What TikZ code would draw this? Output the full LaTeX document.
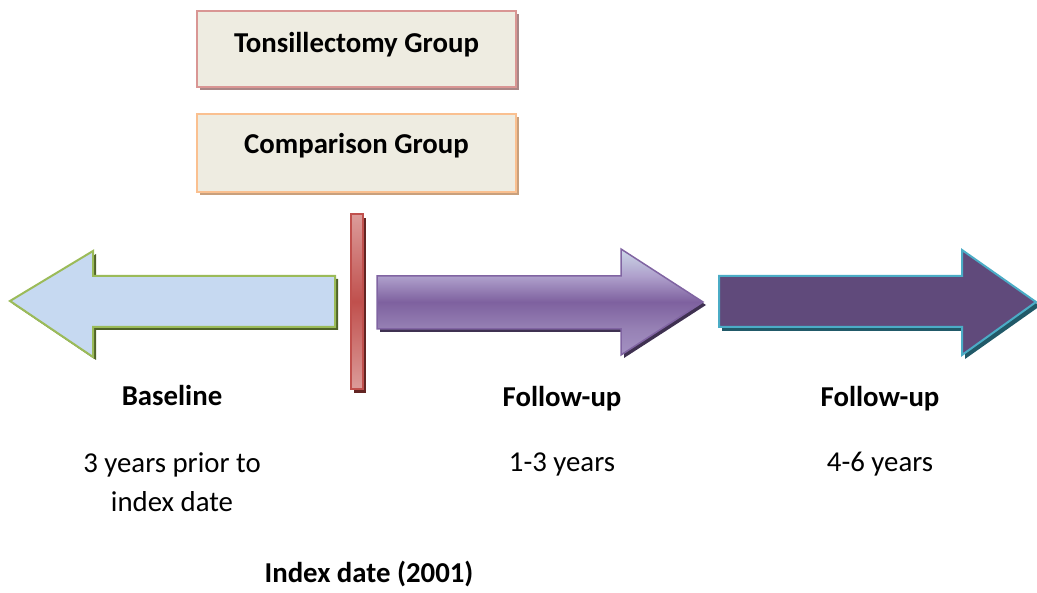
\documentclass[tikz,border=0pt]{standalone}
\usepackage{fontspec}
\setmainfont{Carlito}
\usetikzlibrary{calc}
\definecolor{boxfill}{HTML}{EEECE1}
\definecolor{tgborder}{HTML}{D99694}
\definecolor{tgshadow}{HTML}{A98686}
\definecolor{cgborder}{HTML}{FAC090}
\definecolor{cgshadow}{HTML}{C9A07C}
\definecolor{barred}{HTML}{C0504D}
\definecolor{barlight}{HTML}{DC9C9A}
\definecolor{barshadow}{HTML}{632523}
\definecolor{blfill}{HTML}{C6D9F1}
\definecolor{blborder}{HTML}{9BBB59}
\definecolor{blshadow}{HTML}{4F6228}
\definecolor{pborder}{HTML}{8064A2}
\definecolor{pshadow}{HTML}{3F3151}
\definecolor{rfill}{HTML}{604A7B}
\definecolor{rborder}{HTML}{4BACC6}
\definecolor{rshadow}{HTML}{215968}
\definecolor{pgA}{HTML}{A491C3}
\definecolor{pgB}{HTML}{9782B5}
\definecolor{pgC}{HTML}{7E619F}
\definecolor{pgD}{HTML}{AE9FCB}
\definecolor{pgE}{HTML}{CCD8E8}
\pgfdeclareverticalshading{purpleshade}{100bp}{%
  color(0bp)=(pgA); color(25bp)=(pgA);
  color(37bp)=(pgB); color(50bp)=(pgC);
  color(62bp)=(pgD); color(75bp)=(pgE);
  color(100bp)=(pgE)}
\pgfdeclareverticalshading{barshade}{100bp}{%
  color(0bp)=(barlight); color(25bp)=(barlight);
  color(50bp)=(barred);
  color(75bp)=(barlight); color(100bp)=(barlight)}
\tikzset{
  lbl/.style={anchor=base, inner sep=0pt, font=\fontsize{28.8}{34}\selectfont},
  blbl/.style={lbl, font=\fontsize{28.8}{34}\selectfont\bfseries},
  grpbox/.style={rectangle, fill=boxfill, line width=2pt, minimum width=319pt, inner sep=0pt},
}
\begin{document}
\begin{tikzpicture}[x=1pt,y=-1pt]
\useasboundingbox (0,0) rectangle (1037,593);
% group boxes
\fill[tgshadow] (200,14) rectangle (519,90);
\node[grpbox, draw=tgborder, minimum height=76pt] (tg) at (356.5,49) {};
\node[blbl] (tgt) at (356.5,53) {Tonsillectomy Group};
\fill[cgshadow] (200,117) rectangle (519,195);
\node[grpbox, draw=cgborder, minimum height=78pt] (cg) at (356.5,153) {};
\node[blbl] (cgt) at (356.5,154) {Comparison Group};
% index bar
\fill[barshadow] (354,218) rectangle (366,393);
\path[shading=barshade, draw=barred, line width=1.5pt] (351,214) rectangle (363,389);
% left arrow
\fill[blshadow] (13,304) -- (96,254) -- (96,279) -- (338,279) -- (338,330) -- (96,330) -- (96,360) -- cycle;
\path[fill=blfill, draw=blborder, line width=2pt, line join=miter]
  (10,301) -- (93,251) -- (93,276) -- (335,276) -- (335,327) -- (93,327) -- (93,357) -- cycle;
% middle arrow
\fill[pshadow] (380,279) -- (624,279) -- (624,252) -- (706,305) -- (624,358) -- (624,332) -- (380,332) -- cycle;
\path[shading=purpleshade, draw=pborder, line width=1.5pt]
  (377,276) -- (621,276) -- (621,249) -- (703,302) -- (621,355) -- (621,329) -- (377,329) -- cycle;
% right arrow
\fill[rshadow] (722,280) -- (965,280) -- (965,254) -- (1040,306) -- (965,359) -- (965,331) -- (722,331) -- cycle;
\path[fill=rfill, draw=rborder, line width=2pt]
  (719,276) -- (962,276) -- (962,250) -- (1036,302) -- (962,355) -- (962,327) -- (719,327) -- cycle;
% labels
\node[blbl] (bl) at (172,406) {Baseline};
\node[blbl] (fu1) at (562,407) {Follow-up};
\node[blbl] (fu2) at (880,407) {Follow-up};
\node[lbl] (bl1) at (172,473) {3 years prior to};
\node[lbl] (bl2) at (172,512) {index date};
\node[lbl] (fy1) at (562,472) {1-3 years};
\node[lbl] (fy2) at (880,472) {4-6 years};
\node[blbl] (idx) at (369,583) {Index date (2001)};
\end{tikzpicture}
\end{document}
